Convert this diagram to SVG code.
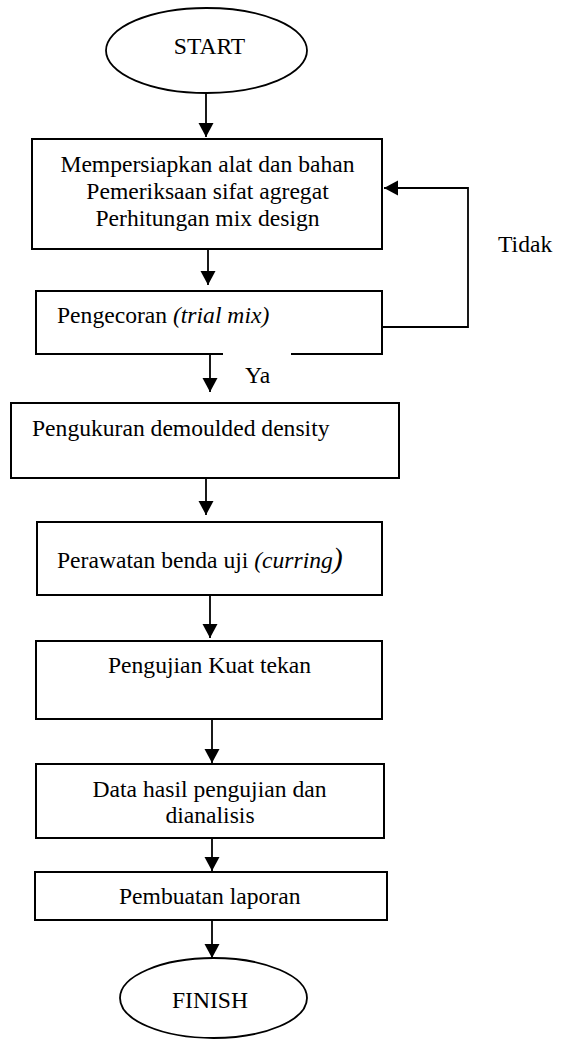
<svg xmlns="http://www.w3.org/2000/svg" width="568" height="1042" viewBox="0 0 568 1042">
<style>
  .box { fill: #ffffff; stroke: #000000; stroke-width: 2; }
  .term { fill: #ffffff; stroke: #000000; stroke-width: 1.8; }
  .t { font-family: "Liberation Serif", "Times New Roman", serif; font-size: 23.6px; fill: #000000; }
  .c { text-anchor: middle; }
  .i { font-style: italic; }
  .edge { fill: none; stroke: #000000; stroke-width: 1.8; }
</style>
<defs>
  <marker id="arr" markerUnits="userSpaceOnUse" markerWidth="16" markerHeight="16" refX="14" refY="7.5" orient="auto">
    <path d="M0,0 L14,7.5 L0,15 Z" fill="#000000"/>
  </marker>
</defs>
<rect width="568" height="1042" fill="#ffffff"/>

<g id="connectors">
  <line class="edge" x1="206" y1="93" x2="206" y2="137" marker-end="url(#arr)"/>
  <line class="edge" x1="208" y1="249" x2="208" y2="285" marker-end="url(#arr)"/>
  <line class="edge" x1="210" y1="354" x2="210" y2="392" marker-end="url(#arr)"/>
  <line class="edge" x1="206" y1="478" x2="206" y2="515" marker-end="url(#arr)"/>
  <line class="edge" x1="210" y1="595" x2="210" y2="638" marker-end="url(#arr)"/>
  <line class="edge" x1="212" y1="719" x2="212" y2="763" marker-end="url(#arr)"/>
  <line class="edge" x1="212" y1="838" x2="212" y2="871" marker-end="url(#arr)"/>
  <line class="edge" x1="212" y1="920" x2="212" y2="958" marker-end="url(#arr)"/>
  <polyline class="edge" points="382,327 468,327 468,188 384,188" marker-end="url(#arr)"/>
</g>

<g id="start">
  <ellipse class="term" cx="206.5" cy="50.5" rx="100.5" ry="42.5"/>
  <text class="t c" x="209.5" y="54">START</text>
</g>

<g id="box1">
  <rect class="box" x="32" y="139" width="350" height="110"/>
  <text class="t c" x="207.5" y="172">Mempersiapkan alat dan bahan</text>
  <text class="t c" x="207.5" y="199">Pemeriksaan sifat agregat</text>
  <text class="t c" x="207.5" y="226">Perhitungan mix design</text>
</g>

<g id="box2">
  <rect class="box" x="36" y="291" width="346" height="63"/>
  <text class="t" x="57" y="323">Pengecoran <tspan class="i">(trial mix)</tspan></text>
</g>

<g id="label-ya">
  <rect x="223" y="351" width="68" height="6" fill="#ffffff"/>
  <text class="t" x="245" y="383">Ya</text>
</g>

<g id="label-tidak">
  <text class="t" x="498" y="252">Tidak</text>
</g>

<g id="box3">
  <rect class="box" x="11" y="403" width="388" height="75"/>
  <text class="t" x="32" y="436">Pengukuran demoulded density</text>
</g>

<g id="box4">
  <rect class="box" x="37" y="522" width="345" height="73"/>
  <text class="t" x="57" y="568">Perawatan benda uji <tspan class="i">(curring</tspan><tspan class="i" font-size="30">)</tspan></text>
</g>

<g id="box5">
  <rect class="box" x="36" y="641" width="346" height="78"/>
  <text class="t c" x="209.5" y="673">Pengujian Kuat tekan</text>
</g>

<g id="box6">
  <rect class="box" x="36" y="764" width="348" height="74"/>
  <text class="t c" x="209.5" y="797">Data hasil pengujian dan</text>
  <text class="t c" x="210" y="823">dianalisis</text>
</g>

<g id="box7">
  <rect class="box" x="35" y="872" width="352" height="48"/>
  <text class="t" x="119" y="904">Pembuatan laporan</text>
</g>

<g id="finish">
  <ellipse class="term" cx="213.5" cy="998" rx="93.5" ry="40"/>
  <text class="t c" x="210" y="1008">FINISH</text>
</g>
</svg>
